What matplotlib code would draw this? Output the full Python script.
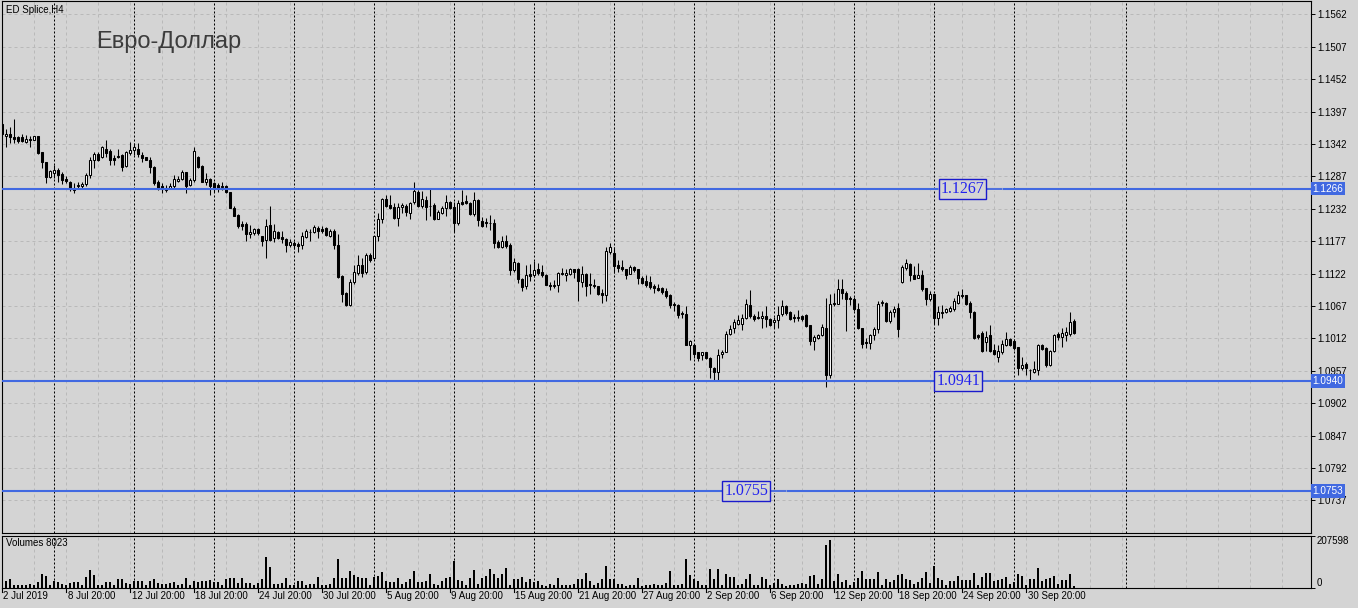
import matplotlib
matplotlib.use('Agg')
import matplotlib.pyplot as plt
import numpy as np

# H4 candles, bar index -1 .. 267 (index -1 is cut by the left border)
opens = [1.1375, 1.1355, 1.1358, 1.1354, 1.1353, 1.1353, 1.1346, 1.1351, 1.1349, 1.1355,
         1.1328, 1.1311, 1.1285, 1.1292, 1.1298, 1.1291, 1.1282, 1.1278, 1.1268, 1.1270,
         1.1270, 1.1274, 1.1290, 1.1314, 1.1325, 1.1319, 1.1334, 1.1330, 1.1318, 1.1322,
         1.1323, 1.1305, 1.1327, 1.1332, 1.1333, 1.1324, 1.1319, 1.1315, 1.1303, 1.1278,
         1.1271, 1.1263, 1.1267, 1.1270, 1.1279, 1.1282, 1.1294, 1.1273, 1.1280, 1.1320,
         1.1305, 1.1278, 1.1282, 1.1276, 1.1272, 1.1271, 1.1271, 1.1260, 1.1234, 1.1222,
         1.1206, 1.1206, 1.1189, 1.1191, 1.1197, 1.1185, 1.1179, 1.1204, 1.1182, 1.1192,
         1.1184, 1.1181, 1.1170, 1.1174, 1.1172, 1.1171, 1.1184, 1.1193, 1.1192, 1.1199,
         1.1198, 1.1199, 1.1186, 1.1195, 1.1171, 1.1117, 1.1089, 1.1069, 1.1108, 1.1123,
         1.1136, 1.1125, 1.1154, 1.1149, 1.1185, 1.1214, 1.1249, 1.1238, 1.1235, 1.1217,
         1.1235, 1.1237, 1.1224, 1.1243, 1.1261, 1.1236, 1.1246, 1.1237, 1.1238, 1.1215,
         1.1225, 1.1234, 1.1243, 1.1235, 1.1207, 1.1243, 1.1245, 1.1242, 1.1223, 1.1247,
         1.1211, 1.1209, 1.1208, 1.1208, 1.1176, 1.1167, 1.1177, 1.1171, 1.1128, 1.1140,
         1.1113, 1.1101, 1.1122, 1.1119, 1.1130, 1.1125, 1.1120, 1.1103, 1.1101, 1.1102,
         1.1123, 1.1119, 1.1122, 1.1129, 1.1129, 1.1107, 1.1122, 1.1105, 1.1103, 1.1101,
         1.1089, 1.1085, 1.1158, 1.1157, 1.1137, 1.1133, 1.1129, 1.1122, 1.1133, 1.1129,
         1.1115, 1.1110, 1.1107, 1.1101, 1.1097, 1.1097, 1.1093, 1.1086, 1.1070, 1.1069,
         1.1055, 1.1053, 1.1000, 1.1001, 1.0988, 1.0983, 1.0988, 1.0979, 1.0962, 1.0955,
         1.0985, 1.0989, 1.1020, 1.1029, 1.1037, 1.1037, 1.1046, 1.1069, 1.1050, 1.1048,
         1.1046, 1.1050, 1.1044, 1.1040, 1.1043, 1.1053, 1.1067, 1.1056, 1.1048, 1.1047,
         1.1050, 1.1051, 1.1034, 1.1007, 1.1012, 1.1017, 1.1029, 1.0949, 1.1071, 1.1071,
         1.1096, 1.1089, 1.1081, 1.1078, 1.1061, 1.1029, 1.1005, 1.1004, 1.1017, 1.1027,
         1.1072, 1.1072, 1.1042, 1.1056, 1.1064, 1.1107, 1.1132, 1.1138, 1.1120, 1.1115,
         1.1120, 1.1097, 1.1078, 1.1087, 1.1047, 1.1056, 1.1056, 1.1059, 1.1062, 1.1072,
         1.1086, 1.1085, 1.1072, 1.1056, 1.1018, 1.1021, 1.1005, 1.1018, 1.0993, 1.0980,
         1.0988, 1.1001, 1.1010, 1.1008, 1.0997, 1.0961, 1.0968, 1.0959, 1.0955, 1.0959,
         1.1000, 1.0995, 1.0967, 1.0991, 1.1020, 1.1014, 1.1018, 1.1019, 1.1041]
highs = [1.1376, 1.1368, 1.1370, 1.1384, 1.1356, 1.1358, 1.1357, 1.1356, 1.1356, 1.1356,
         1.1328, 1.1311, 1.1298, 1.1306, 1.1301, 1.1295, 1.1287, 1.1279, 1.1275, 1.1277,
         1.1278, 1.1292, 1.1320, 1.1329, 1.1328, 1.1339, 1.1349, 1.1334, 1.1323, 1.1334,
         1.1325, 1.1330, 1.1345, 1.1344, 1.1343, 1.1329, 1.1320, 1.1319, 1.1305, 1.1281,
         1.1275, 1.1272, 1.1275, 1.1290, 1.1288, 1.1298, 1.1295, 1.1284, 1.1336, 1.1321,
         1.1306, 1.1292, 1.1284, 1.1278, 1.1276, 1.1278, 1.1273, 1.1261, 1.1236, 1.1223,
         1.1211, 1.1209, 1.1204, 1.1200, 1.1199, 1.1186, 1.1215, 1.1237, 1.1206, 1.1194,
         1.1195, 1.1183, 1.1180, 1.1177, 1.1176, 1.1193, 1.1198, 1.1198, 1.1204, 1.1202,
         1.1202, 1.1201, 1.1197, 1.1197, 1.1189, 1.1119, 1.1091, 1.1112, 1.1136, 1.1154,
         1.1148, 1.1156, 1.1156, 1.1185, 1.1224, 1.1250, 1.1255, 1.1255, 1.1242, 1.1241,
         1.1242, 1.1240, 1.1244, 1.1278, 1.1263, 1.1262, 1.1253, 1.1266, 1.1242, 1.1229,
         1.1237, 1.1255, 1.1245, 1.1244, 1.1246, 1.1263, 1.1255, 1.1243, 1.1260, 1.1249,
         1.1218, 1.1216, 1.1221, 1.1214, 1.1179, 1.1185, 1.1188, 1.1174, 1.1148, 1.1142,
         1.1115, 1.1136, 1.1138, 1.1144, 1.1139, 1.1137, 1.1122, 1.1107, 1.1111, 1.1125,
         1.1131, 1.1130, 1.1131, 1.1129, 1.1131, 1.1134, 1.1123, 1.1123, 1.1113, 1.1101,
         1.1095, 1.1167, 1.1174, 1.1167, 1.1145, 1.1145, 1.1130, 1.1136, 1.1134, 1.1130,
         1.1118, 1.1119, 1.1118, 1.1105, 1.1104, 1.1099, 1.1097, 1.1088, 1.1073, 1.1070,
         1.1058, 1.1066, 1.1009, 1.1003, 1.0989, 1.0989, 1.0989, 1.0980, 1.0963, 1.0994,
         1.0992, 1.1025, 1.1035, 1.1045, 1.1051, 1.1054, 1.1079, 1.1094, 1.1053, 1.1059,
         1.1059, 1.1067, 1.1047, 1.1049, 1.1067, 1.1077, 1.1069, 1.1059, 1.1054, 1.1060,
         1.1052, 1.1053, 1.1035, 1.1018, 1.1019, 1.1036, 1.1080, 1.1088, 1.1089, 1.1113,
         1.1112, 1.1092, 1.1084, 1.1082, 1.1072, 1.1030, 1.1012, 1.1020, 1.1032, 1.1075,
         1.1077, 1.1073, 1.1060, 1.1067, 1.1072, 1.1136, 1.1147, 1.1139, 1.1134, 1.1140,
         1.1128, 1.1098, 1.1092, 1.1088, 1.1066, 1.1068, 1.1064, 1.1066, 1.1080, 1.1092,
         1.1095, 1.1086, 1.1075, 1.1058, 1.1020, 1.1024, 1.1025, 1.1034, 1.1002, 1.1001,
         1.1009, 1.1023, 1.1012, 1.1010, 1.0998, 1.0980, 1.0972, 1.0960, 1.0973, 1.1003,
         1.1003, 1.0997, 1.0993, 1.1020, 1.1023, 1.1029, 1.1031, 1.1056, 1.1044]
lows = [1.1357, 1.1337, 1.1344, 1.1343, 1.1344, 1.1346, 1.1343, 1.1337, 1.1348, 1.1325,
        1.1301, 1.1275, 1.1284, 1.1284, 1.1278, 1.1274, 1.1275, 1.1262, 1.1258, 1.1266,
        1.1268, 1.1270, 1.1284, 1.1301, 1.1313, 1.1318, 1.1320, 1.1306, 1.1306, 1.1318,
        1.1296, 1.1303, 1.1324, 1.1323, 1.1320, 1.1312, 1.1314, 1.1292, 1.1272, 1.1264,
        1.1259, 1.1260, 1.1266, 1.1267, 1.1277, 1.1281, 1.1259, 1.1271, 1.1277, 1.1301,
        1.1277, 1.1272, 1.1255, 1.1261, 1.1260, 1.1263, 1.1259, 1.1233, 1.1219, 1.1199,
        1.1196, 1.1177, 1.1183, 1.1188, 1.1188, 1.1169, 1.1149, 1.1177, 1.1176, 1.1181,
        1.1173, 1.1158, 1.1167, 1.1164, 1.1159, 1.1164, 1.1182, 1.1177, 1.1190, 1.1183,
        1.1191, 1.1185, 1.1184, 1.1163, 1.1115, 1.1073, 1.1067, 1.1067, 1.1104, 1.1120,
        1.1116, 1.1121, 1.1142, 1.1147, 1.1177, 1.1207, 1.1235, 1.1232, 1.1214, 1.1203,
        1.1225, 1.1220, 1.1214, 1.1240, 1.1235, 1.1234, 1.1212, 1.1219, 1.1212, 1.1214,
        1.1223, 1.1220, 1.1232, 1.1192, 1.1205, 1.1238, 1.1240, 1.1221, 1.1220, 1.1202,
        1.1201, 1.1201, 1.1196, 1.1166, 1.1165, 1.1166, 1.1166, 1.1119, 1.1124, 1.1106,
        1.1093, 1.1096, 1.1110, 1.1116, 1.1120, 1.1116, 1.1102, 1.1094, 1.1097, 1.1090,
        1.1120, 1.1110, 1.1119, 1.1115, 1.1076, 1.1099, 1.1084, 1.1087, 1.1097, 1.1086,
        1.1072, 1.1075, 1.1155, 1.1123, 1.1125, 1.1127, 1.1113, 1.1121, 1.1125, 1.1105,
        1.1104, 1.1099, 1.1095, 1.1089, 1.1093, 1.1088, 1.1081, 1.1063, 1.1059, 1.1046,
        1.1047, 1.1000, 1.0976, 1.0979, 1.0974, 1.0976, 1.0977, 1.0945, 1.0942, 1.0942,
        1.0979, 1.0988, 1.1017, 1.1021, 1.1035, 1.1026, 1.1045, 1.1046, 1.1041, 1.1044,
        1.1029, 1.1032, 1.1033, 1.1029, 1.1029, 1.1050, 1.1052, 1.1043, 1.1040, 1.1041,
        1.1042, 1.1032, 1.1001, 1.0992, 1.1011, 1.1016, 1.0929, 1.0945, 1.1067, 1.1070,
        1.1079, 1.1025, 1.1068, 1.1058, 1.1027, 1.0996, 1.0996, 1.0994, 1.1009, 1.1021,
        1.1067, 1.1040, 1.1038, 1.1049, 1.1015, 1.1106, 1.1128, 1.1110, 1.1112, 1.1114,
        1.1092, 1.1068, 1.1075, 1.1036, 1.1034, 1.1046, 1.1055, 1.1056, 1.1058, 1.1071,
        1.1080, 1.1069, 1.1046, 1.1011, 1.1010, 1.0988, 1.0990, 1.0988, 1.0983, 1.0972,
        1.0985, 1.0999, 1.0999, 1.0993, 1.0950, 1.0958, 1.0950, 1.0942, 1.0953, 1.0949,
        1.0992, 1.0964, 1.0965, 1.0989, 1.1009, 1.0998, 1.1007, 1.1016, 1.1019]
closes = [1.1358, 1.1358, 1.1353, 1.1350, 1.1347, 1.1347, 1.1350, 1.1348, 1.1355, 1.1327,
          1.1311, 1.1286, 1.1296, 1.1298, 1.1290, 1.1281, 1.1279, 1.1266, 1.1264, 1.1273,
          1.1274, 1.1290, 1.1315, 1.1325, 1.1314, 1.1336, 1.1327, 1.1315, 1.1315, 1.1319,
          1.1303, 1.1329, 1.1332, 1.1336, 1.1325, 1.1318, 1.1315, 1.1302, 1.1275, 1.1268,
          1.1266, 1.1267, 1.1271, 1.1282, 1.1282, 1.1294, 1.1271, 1.1280, 1.1330, 1.1303,
          1.1278, 1.1282, 1.1270, 1.1268, 1.1268, 1.1269, 1.1261, 1.1234, 1.1220, 1.1202,
          1.1202, 1.1189, 1.1193, 1.1198, 1.1190, 1.1177, 1.1203, 1.1179, 1.1194, 1.1183,
          1.1180, 1.1170, 1.1176, 1.1170, 1.1168, 1.1185, 1.1194, 1.1192, 1.1201, 1.1194,
          1.1194, 1.1188, 1.1194, 1.1170, 1.1116, 1.1088, 1.1069, 1.1108, 1.1124, 1.1137,
          1.1123, 1.1154, 1.1145, 1.1185, 1.1215, 1.1249, 1.1237, 1.1234, 1.1216, 1.1235,
          1.1238, 1.1226, 1.1242, 1.1262, 1.1237, 1.1249, 1.1235, 1.1236, 1.1214, 1.1226,
          1.1234, 1.1243, 1.1234, 1.1207, 1.1242, 1.1240, 1.1242, 1.1223, 1.1246, 1.1212,
          1.1202, 1.1207, 1.1207, 1.1174, 1.1167, 1.1177, 1.1168, 1.1128, 1.1142, 1.1112,
          1.1099, 1.1119, 1.1118, 1.1128, 1.1123, 1.1119, 1.1103, 1.1101, 1.1103, 1.1123,
          1.1121, 1.1123, 1.1129, 1.1125, 1.1110, 1.1122, 1.1101, 1.1102, 1.1101, 1.1088,
          1.1085, 1.1160, 1.1167, 1.1134, 1.1132, 1.1129, 1.1119, 1.1133, 1.1128, 1.1115,
          1.1106, 1.1103, 1.1099, 1.1098, 1.1094, 1.1090, 1.1084, 1.1068, 1.1069, 1.1052,
          1.1053, 1.1001, 1.1007, 1.0986, 1.0979, 1.0988, 1.0979, 1.0963, 1.0955, 1.0984,
          1.0989, 1.1019, 1.1028, 1.1039, 1.1043, 1.1046, 1.1070, 1.1050, 1.1045, 1.1046,
          1.1050, 1.1044, 1.1035, 1.1043, 1.1052, 1.1066, 1.1055, 1.1044, 1.1046, 1.1049,
          1.1045, 1.1033, 1.1007, 1.1015, 1.1017, 1.1032, 1.0949, 1.1070, 1.1072, 1.1095,
          1.1089, 1.1078, 1.1079, 1.1061, 1.1029, 1.1003, 1.1004, 1.1018, 1.1028, 1.1071,
          1.1073, 1.1042, 1.1056, 1.1062, 1.1027, 1.1133, 1.1140, 1.1119, 1.1113, 1.1120,
          1.1096, 1.1078, 1.1087, 1.1046, 1.1056, 1.1055, 1.1062, 1.1063, 1.1076, 1.1086,
          1.1083, 1.1070, 1.1056, 1.1012, 1.1014, 1.0990, 1.1014, 1.0990, 1.0986, 1.0990,
          1.1003, 1.1010, 1.1001, 1.0996, 1.0962, 1.0967, 1.0962, 1.0958, 1.0960, 1.1001,
          1.0994, 1.0966, 1.0991, 1.1018, 1.1015, 1.1021, 1.1022, 1.1040, 1.1021]
volumes = [20000, 29000, 36000, 9000, 9000, 9000, 9000, 14000, 9000, 24000,
           58000, 50000, 9000, 29000, 24000, 14000, 9000, 20000, 23000, 23000,
           9000, 44000, 78000, 55000, 9000, 12000, 26000, 26000, 12000, 36000,
           36000, 20000, 17000, 29000, 29000, 27000, 9000, 29000, 36000, 18000,
           17000, 17000, 20000, 24000, 9000, 17000, 40000, 12000, 30000, 24000,
           30000, 30000, 32000, 23000, 23000, 12000, 36000, 40000, 40000, 18000,
           40000, 20000, 20000, 9000, 20000, 35000, 134000, 91000, 17000, 17000,
           20000, 43000, 12000, 9000, 27000, 27000, 12000, 14000, 14000, 46000,
           12000, 9000, 17000, 43000, 123000, 43000, 43000, 70000, 55000, 44000,
           43000, 43000, 9000, 46000, 50000, 67000, 29000, 24000, 24000, 43000,
           17000, 24000, 35000, 74000, 24000, 23000, 29000, 59000, 17000, 12000,
           29000, 40000, 44000, 116000, 32000, 29000, 12000, 40000, 78000, 17000,
           40000, 52000, 81000, 58000, 40000, 58000, 84000, 12000, 35000, 35000,
           46000, 24000, 38000, 24000, 30000, 9000, 6000, 17000, 12000, 43000,
           9000, 9000, 9000, 14000, 36000, 36000, 64000, 27000, 9000, 20000,
           36000, 96000, 36000, 36000, 17000, 17000, 6000, 9000, 9000, 40000,
           6000, 9000, 12000, 17000, 9000, 9000, 21000, 73000, 12000, 12000,
           17000, 123000, 55000, 36000, 27000, 12000, 9000, 82000, 36000, 82000,
           9000, 58000, 46000, 46000, 9000, 17000, 35000, 58000, 9000, 9000,
           46000, 35000, 9000, 20000, 36000, 17000, 6000, 9000, 12000, 17000,
           20000, 17000, 50000, 55000, 17000, 35000, 184000, 207598, 29000, 59000,
           24000, 32000, 9000, 24000, 40000, 73000, 36000, 36000, 36000, 68000,
           12000, 36000, 24000, 32000, 55000, 58000, 36000, 32000, 17000, 24000,
           40000, 68000, 20000, 93000, 43000, 32000, 12000, 29000, 29000, 50000,
           32000, 32000, 32000, 62000, 12000, 47000, 62000, 62000, 27000, 32000,
           35000, 44000, 17000, 24000, 58000, 50000, 12000, 35000, 35000, 85000,
           27000, 35000, 43000, 50000, 17000, 32000, 32000, 58000, 8023]

date_labels = ['2 Jul 2019', '8 Jul 20:00', '12 Jul 20:00', '18 Jul 20:00', '24 Jul 20:00',
               '30 Jul 20:00', '5 Aug 20:00', '9 Aug 20:00', '15 Aug 20:00', '21 Aug 20:00',
               '27 Aug 20:00', '2 Sep 20:00', '6 Sep 20:00', '12 Sep 20:00', '18 Sep 20:00',
               '24 Sep 20:00', '30 Sep 20:00']
price_ticks = [1.1562, 1.1507, 1.1452, 1.1397, 1.1342, 1.1287, 1.1232, 1.1177,
               1.1122, 1.1067, 1.1012, 1.0957, 1.0902, 1.0847, 1.0792, 1.0737]
level_prices = [1.1266, 1.0940, 1.0753]
note_texts = ['1.1267', '1.0941', '1.0755']
note_bars = [239, 238, 185]      # bar under the centre of each note box
note_ends = [249, 248, 195]      # bar where the short note line ends
extra_vline = 280                # dashed vertical line right of the data
vol_max = 207598

BG = '#d4d4d4'
GRID = '#b9b9b9'
BLUE = '#4169e1'
plt.rcParams['font.family'] = ['Liberation Sans', 'DejaVu Sans']

W, H = 1358, 608
fig = plt.figure(figsize=(W / 100, H / 100), dpi=100, facecolor=BG)

def box(x0, y0, x1, y1):
    return [x0 / W, 1 - y1 / H, (x1 - x0) / W, (y1 - y0) / H]

ax = fig.add_axes(box(2.3, 1, 1310.7, 533))
axv = fig.add_axes(box(2.3, 536, 1310.7, 587.5))

bars = np.arange(len(closes)) - 1
o = np.array(opens); h = np.array(highs); l = np.array(lows); c = np.array(closes)
up = c >= o
xmax = -1 + (1310.7 - 2.3) / 4

for a in (ax, axv):
    a.set_facecolor(BG)
    a.set_xlim(-1, xmax)
    for s in a.spines.values():
        s.set_color('black'); s.set_linewidth(0.8)
    a.set_xticks([])
    # light grid every 8 bars, weekly separators every 20 bars
    for g in range(7, int(xmax), 8):
        a.axvline(g, color=GRID, lw=0.72, ls=(0, (3, 3)), zorder=0)
    for s in list(range(12, 268, 20)) + [extra_vline]:
        a.axvline(s, color='black', lw=0.72, ls=(0, (2, 2)), zorder=1)

ax.set_ylim(1.06815, 1.15846)
for p in price_ticks:
    ax.axhline(p, color=GRID, lw=0.72, ls=(0, (3, 3)), zorder=0)

# candles
ax.vlines(bars, l, h, color='black', lw=0.75, zorder=3)
body_h = np.maximum(np.abs(c - o), 0.000005)
ax.bar(bars[up], body_h[up], bottom=np.minimum(o, c)[up], width=0.5,
       color='white', edgecolor='black', lw=0.75, zorder=4)
ax.bar(bars[~up], body_h[~up], bottom=np.minimum(o, c)[~up], width=0.5,
       color='black', edgecolor='black', lw=0.75, zorder=4)

# horizontal levels and their notes
for p in level_prices:
    ax.axhline(p, color=BLUE, lw=1.5, zorder=5)
for txt, p, b, e in zip(note_texts, level_prices, note_bars, note_ends):
    ax.plot([b - 6, e], [p, p], color=BG, lw=2.4, zorder=5.5, solid_capstyle='butt')
    ax.plot([b, e], [p, p], color='#2a55e0', lw=1.1, zorder=6.5, solid_capstyle='butt')
    ax.text(b, p, txt, ha='center', va='center', fontsize=11.5, color='#2222ee',
            family='Liberation Serif', zorder=7,
            bbox=dict(boxstyle='square,pad=0.12', fc=BG, ec='#1a1acc', lw=1))

ax.yaxis.tick_right()
ax.set_yticks(price_ticks)
ax.set_yticklabels(['%.4f' % p for p in price_ticks])
ax.tick_params(axis='y', length=3, width=0.7, pad=1.5, labelsize=7, colors='black')
for p in level_prices:
    ax.text(1.0015, p, '%.4f' % p, transform=ax.get_yaxis_transform(), ha='left',
            va='center', fontsize=7.2, color='white', zorder=8, clip_on=False,
            bbox=dict(boxstyle='square,pad=0.18', fc=BLUE, ec=BLUE, lw=0))

ax.text(0.0025, 0.984, 'ED Splice,H4', transform=ax.transAxes, fontsize=7, va='center')
ax.text(0.072, 0.923, 'Евро-Доллар', transform=ax.transAxes, fontsize=17,
        color='#3c3c3c', va='center')

# volumes
axv.bar(bars, volumes, width=0.45, color='black', zorder=3)
axv.set_ylim(0, vol_max * 51.5 / 47.5)
axv.yaxis.tick_right()
axv.set_yticks([0, vol_max * 51.5 / 47.5])
axv.set_yticklabels(['0', str(vol_max)])
axv.tick_params(axis='y', length=3, width=0.7, pad=1.5, labelsize=7)
lbls = axv.get_yticklabels()
lbls[0].set_va('bottom'); lbls[1].set_va('top')
axv.text(0.0025, 0.86, 'Volumes %d' % volumes[-1], transform=axv.transAxes,
         fontsize=7, va='center')

# time scale
for i, lab in enumerate(date_labels):
    b = -1 + 16 * i
    axv.plot([b, b], [0, -0.09], transform=axv.get_xaxis_transform(),
             color='black', lw=0.8, clip_on=False)
    axv.text(b + 0.3, -0.17, lab, transform=axv.get_xaxis_transform(), ha='left',
             va='center', fontsize=7)

fig.savefig('out.png', dpi=100, facecolor=BG)
